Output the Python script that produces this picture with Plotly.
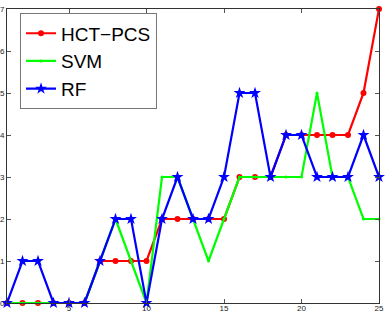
import plotly.graph_objects as go

x = list(range(1, 26))
hct_pcs = [0, 0, 0, 0, 0, 0, 1, 1, 1, 1, 2, 2, 2, 2, 2, 3, 3, 3, 4, 4, 4, 4, 4, 5, 7]
svm = [0, 0, 0, 0, 0, 0, 1, 2, 1, 0, 3, 3, 2, 1, 2, 3, 3, 3, 3, 3, 5, 3, 3, 2, 2]
rf = [0, 1, 1, 0, 0, 0, 1, 2, 2, 0, 2, 3, 2, 2, 3, 5, 5, 3, 4, 4, 3, 3, 3, 4, 3]
x_ticks = [5, 10, 15, 20, 25]
y_ticks = [0, 1, 2, 3, 4, 5, 6, 7]

fig = go.Figure()
fig.add_trace(go.Scatter(x=x, y=hct_pcs, name="HCT\u2212PCS", mode="lines+markers",
                         line=dict(color="#ff0000", width=2.2),
                         marker=dict(symbol="circle", size=6, color="#ff0000"),
                         cliponaxis=False))
fig.add_trace(go.Scatter(x=x, y=svm, name="SVM", mode="lines+markers",
                         line=dict(color="#00ff00", width=2.2),
                         marker=dict(symbol="circle", size=3, color="#00ff00"),
                         cliponaxis=False))
fig.add_trace(go.Scatter(x=x, y=rf, name="RF", mode="lines+markers",
                         line=dict(color="#0000ff", width=2.2),
                         marker=dict(symbol="star", size=9, color="#0000ff"),
                         cliponaxis=False))

axis_common = dict(showgrid=False, zeroline=False, showline=True, linecolor="#333333",
                   linewidth=1, mirror="ticks", ticks="inside", ticklen=4,
                   tickcolor="#555555", automargin=False,
                   tickfont=dict(size=8, color="#222222", family="Liberation Sans"))
fig.update_xaxes(range=[1, 25], tickvals=x_ticks, ticklabelstandoff=-3, **axis_common)
fig.update_yaxes(range=[0, 7], tickvals=y_ticks, ticklabelstandoff=0, **axis_common)

fig.update_layout(
    width=388, height=313,
    margin=dict(l=7, r=9, t=9, b=10),
    plot_bgcolor="white", paper_bgcolor="white",
    font=dict(family="Liberation Sans"),
    legend=dict(x=0.035, y=0.985, xanchor="left", yanchor="top",
                bgcolor="white", bordercolor="#777777", borderwidth=1,
                font=dict(size=19, color="black", family="Liberation Sans"),
                itemwidth=30, tracegroupgap=0),
    showlegend=True,
)

fig.write_html("out.html", config={"displayModeBar": False},
               post_script="document.body.style.margin='0';document.body.style.overflow='hidden';")
